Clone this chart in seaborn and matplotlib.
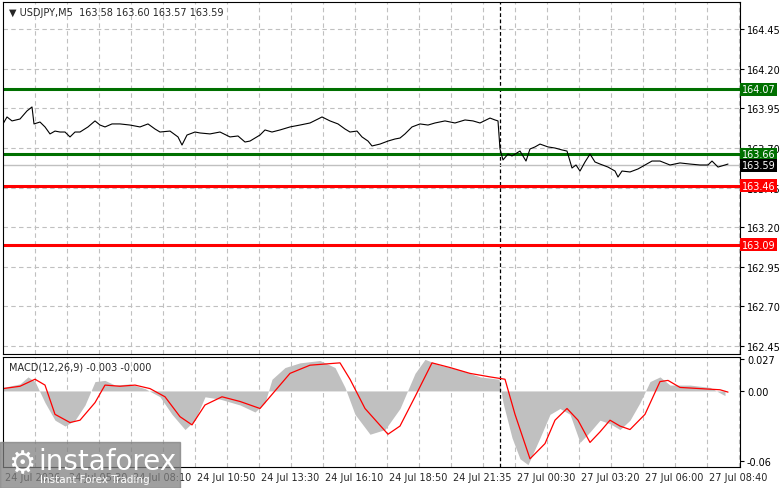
import matplotlib
matplotlib.use("Agg")
import matplotlib.pyplot as plt
from matplotlib.patches import Rectangle
import numpy as np
import seaborn as sns

sns.set_style("white")
plt.rcParams['font.family'] = ['DejaVu Sans']

# time axis in half-bar steps (1 step = 2.5 min)
price_t = [0, 4, 9, 17, 24, 29, 31, 37, 42, 47, 52, 57, 62, 67, 72, 77, 85, 92, 97, 102, 109, 117,
           127, 137, 145, 152, 157, 167, 175, 179, 184, 192, 197, 207, 217, 227, 235, 242, 247, 257,
           262, 269, 277, 287, 297, 307, 315, 319, 327, 335, 342, 347, 354, 359, 365, 369, 377, 385,
           392, 397, 402, 409, 417, 425, 432, 442, 452, 462, 470, 477, 487, 492, 495, 497, 500, 505,
           509, 517, 523, 527, 532, 537, 545, 552, 559, 564, 569, 573, 577, 582, 587, 592, 597, 605,
           612, 615, 619, 627, 635, 642, 649, 657, 667, 677, 687, 697, 705, 709, 715, 722, 725]
price_y = [125, 118, 122, 120, 112, 108, 125, 123, 128, 135, 132, 133, 133, 138, 133, 133, 128, 122,
           126, 128, 125, 125, 126, 128, 125, 130, 133, 132, 138, 146, 136, 133, 134, 135, 133, 138,
           137, 143, 142, 136, 131, 133, 131, 128, 126, 124, 120, 118, 122, 125, 130, 133, 132, 138,
           142, 147, 145, 142, 140, 139, 135, 128, 125, 126, 124, 122, 124, 121, 122, 124, 119, 121,
           122, 150, 161, 155, 157, 152, 162, 150, 148, 145, 148, 149, 151, 152, 169, 166, 172, 163,
           155, 163, 165, 168, 172, 178, 172, 173, 170, 166, 162, 162, 166, 164, 165, 166, 166, 162,
           168, 166, 165]
price = [round(164.45 - (y - 30) / 158.5, 3) for y in price_y]

signal_t = [0, 17, 32, 42, 52, 67, 77, 92, 102, 117, 132, 147, 162, 177, 189, 202, 219, 237, 257,
            272, 287, 307, 322, 337, 347, 362, 385, 397, 412, 429, 447, 467, 487, 502, 512, 527,
            542, 552, 564, 575, 587, 597, 607, 617, 627, 642, 657, 665, 677, 697, 717, 725]
signal = [0.002, 0.004, 0.010, 0.005, -0.020, -0.027, -0.025, -0.010, 0.005, 0.004, 0.005, 0.002,
          -0.005, -0.022, -0.029, -0.012, -0.005, -0.009, -0.015, 0.000, 0.015, 0.022, 0.023, 0.024,
          0.010, -0.015, -0.037, -0.030, -0.005, 0.024, 0.020, 0.015, 0.012, 0.010, -0.020, -0.058,
          -0.045, -0.025, -0.015, -0.025, -0.044, -0.035, -0.025, -0.030, -0.033, -0.020, 0.008,
          0.009, 0.003, 0.002, 0.001, -0.001]

hist_t = [0, 17, 25, 32, 42, 52, 62, 72, 82, 92, 102, 112, 127, 142, 157, 169, 182, 192, 202, 217,
          237, 252, 262, 269, 282, 297, 317, 332, 342, 352, 367, 382, 397, 412, 422, 437, 457, 477,
          496, 500, 509, 517, 525, 537, 547, 557, 567, 577, 587, 597, 607, 617, 627, 637, 647, 657,
          667, 687, 707, 722]
hist = [0.003, 0.006, 0.012, 0.008, -0.010, -0.025, -0.030, -0.025, -0.012, 0.008, 0.009, 0.005,
        0.006, 0.002, -0.005, -0.020, -0.033, -0.025, -0.005, -0.007, -0.012, -0.018, -0.010, 0.010,
        0.020, 0.024, 0.026, 0.020, 0.003, -0.020, -0.037, -0.033, -0.015, 0.015, 0.027, 0.022,
        0.018, 0.012, 0.010, -0.010, -0.040, -0.058, -0.063, -0.040, -0.020, -0.015, -0.020, -0.044,
        -0.035, -0.025, -0.028, -0.033, -0.025, -0.010, 0.008, 0.012, 0.005, 0.005, 0.003, -0.004]

levels = [164.07, 163.66, 163.46, 163.09]
level_colors = ['#007000', '#007000', '#ff0000', '#ff0000']
price_ticks = [164.45, 164.20, 163.95, 163.70, 163.45, 163.20, 162.95, 162.70, 162.45]
time_labels = ['24 Jul 2026', '24 Jul 05:30', '24 Jul 08:10', '24 Jul 10:50', '24 Jul 13:30',
               '24 Jul 16:10', '24 Jul 18:50', '24 Jul 21:35', '27 Jul 00:30', '27 Jul 03:20',
               '27 Jul 06:00', '27 Jul 08:40']
last_price = 163.59
sep_t = 497

W, H = 781, 489
fig = plt.figure(figsize=(W / 100, H / 100), dpi=100)
ax = fig.add_axes([3 / W, 1 - 355 / H, 737 / W, 352 / H])
ax2 = fig.add_axes([3 / W, 1 - 468 / H, 737 / W, 110 / H])

grid_kw = dict(color='#c0c0c0', linestyle=(0, (4, 3)), linewidth=0.8)
for a in (ax, ax2):
    a.set_xlim(0, 737)
    a.set_xticks(np.arange(32, 737, 32))
    a.grid(True, axis='x', **grid_kw)
    a.tick_params(axis='x', length=0, labelbottom=False)
    a.yaxis.tick_right()
    a.tick_params(axis='y', length=3, labelsize=7, pad=2, colors='black')
    for s in a.spines.values():
        s.set_color('black')
        s.set_linewidth(0.8)
    a.axvline(sep_t, color='black', linestyle=(0, (3, 2)), linewidth=0.9)

# price panel
ax.set_ylim(162.40, 164.62)
ax.set_yticks(price_ticks)
ax.set_yticklabels([f'{v:.2f}' for v in price_ticks])
ax.grid(True, axis='y', **grid_kw)
ax.axhline(last_price, color='#c0c0c0', linewidth=1)
for lv, c in zip(levels, level_colors):
    ax.axhline(lv, color=c, linewidth=2.2)
    ax.text(1.002, lv, f'{lv:.2f}', transform=ax.get_yaxis_transform(), fontsize=7, color='white',
            va='center', ha='left', bbox=dict(boxstyle='square,pad=0.15', fc=c, ec='none'))
ax.text(1.002, last_price, f'{last_price:.2f}', transform=ax.get_yaxis_transform(), fontsize=7,
        color='white', va='center', ha='left', bbox=dict(boxstyle='square,pad=0.15', fc='black', ec='none'))
sns.lineplot(x=price_t, y=price, ax=ax, color='black', linewidth=0.8)
ax.set_xlabel('')
ax.text(0.008, 0.985, '▼ USDJPY,M5  163.58 163.60 163.57 163.59', transform=ax.transAxes,
        fontsize=7, va='top', ha='left')

# MACD panel
ax2.set_ylim(-0.065, 0.029)
ax2.set_yticks([0.027, 0.0, -0.06])
ax2.set_yticklabels(['0.027', '0.00', '-0.06'])
ax2.fill_between(hist_t, 0, hist, color='#c0c0c0', linewidth=0)
sns.lineplot(x=signal_t, y=signal, ax=ax2, color='#ff0000', linewidth=0.9)
ax2.set_xlabel('')
ax2.text(0.008, 0.96, 'MACD(12,26,9) -0.003 -0.000', transform=ax2.transAxes, fontsize=7,
         va='top', ha='left')
for i, lab in enumerate(time_labels):
    fig.text((3 + 64 * i + 2) / W, 1 - 478 / H, lab, fontsize=7, va='center', ha='left')

# watermark
fig.patches.append(Rectangle((0, 0), 180 / W, 46 / H, transform=fig.transFigure,
                             color='#808080', alpha=0.75, zorder=5))
fig.text(38 / W, 1 - 462 / H, 'instaforex', fontsize=20, color='white', va='center', zorder=6)
fig.text(40 / W, 1 - 480 / H, 'Instant Forex Trading', fontsize=7.5, color='white', va='center', zorder=6)
fig.text(8 / W, 1 - 465 / H, '⚙', fontsize=22, color='white', va='center', zorder=6)

fig.savefig('out.png', dpi=100)
